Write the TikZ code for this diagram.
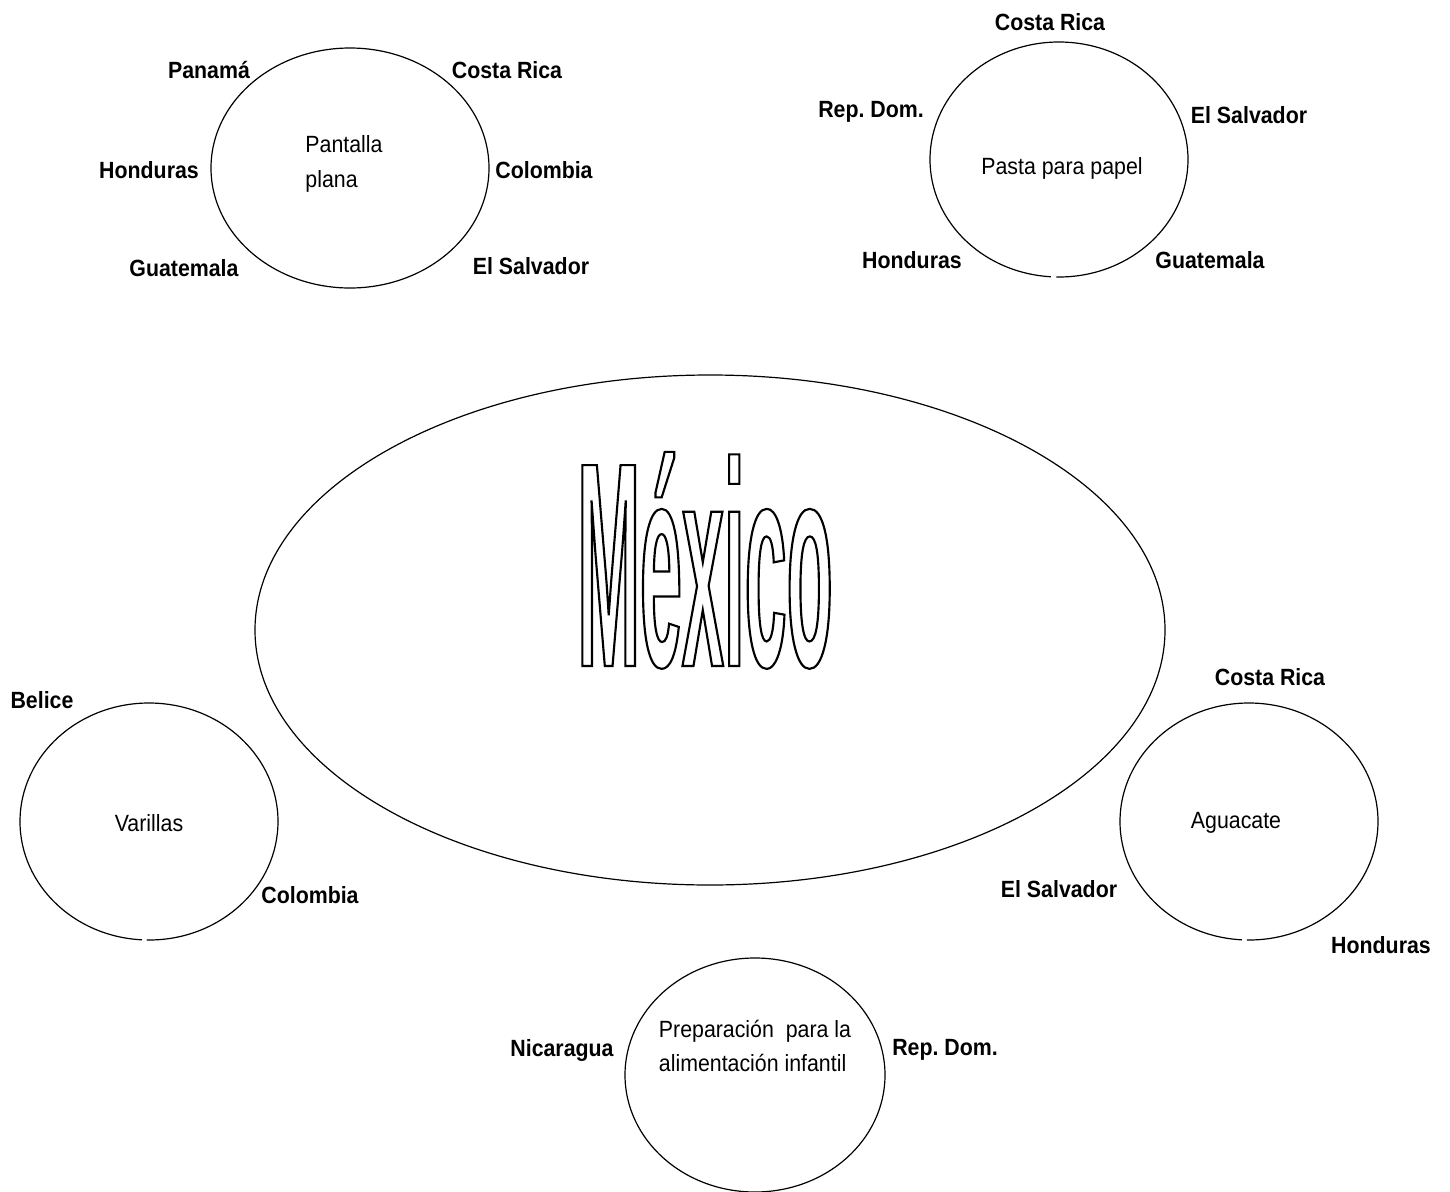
\documentclass[tikz,border=0pt]{standalone}
\usepackage{fontspec}
\setmainfont{Liberation Sans}
\newfontfamily\mexfont[FakeStretch=0.258]{Liberation Sans Bold}
\usetikzlibrary{shapes.geometric}
\newcommand\tallt[1]{\scalebox{1}[1.1]{#1}}
\tikzset{
  lbl/.style={inner sep=0pt, font=\fontsize{16}{19}\selectfont\bfseries},
  prod/.style={inner sep=0pt, font=\fontsize{16}{26}\selectfont, align=left},
  oval/.style={draw, ellipse, inner sep=0pt, line width=0.9pt},
  arcline/.style={line width=0.9pt}
}
\frenchspacing
\begin{document}
\begin{tikzpicture}[x=0.75pt,y=-0.75pt]
\useasboundingbox (0,0) rectangle (1450,1192);
% Pantalla plana
\node[oval, minimum width=208.5pt, minimum height=180pt] (c1) at (350,168) {};
\node[prod] (t1) at (344,164) {\tallt{Pantalla}\\\tallt{plana}};
\node[lbl] (c1a) at (209,70) {\tallt{Panamá}};
\node[lbl] (c1b) at (507,70) {\tallt{Costa Rica}};
\node[lbl] (c1c) at (149,170) {\tallt{Honduras}};
\node[lbl] (c1d) at (544,170) {\tallt{Colombia}};
\node[lbl] (c1e) at (184,268) {\tallt{Guatemala}};
\node[lbl] (c1f) at (531,266) {\tallt{El Salvador}};
% Pasta para papel
\coordinate (c2) at (1059,159.5);
\draw[arcline] (c2) ++(93.6:129 and 117.5) arc[start angle=93.6, end angle=451.2, x radius=129, y radius=117.5];
\node[prod] (t2) at (1062,168) {\tallt{Pasta para papel}};
\node[lbl] (c2a) at (1050,22) {\tallt{Costa Rica}};
\node[lbl] (c2b) at (871,112) {\tallt{Rep. Dom.}};
\node[lbl] (c2c) at (1249,115) {\tallt{El Salvador}};
\node[lbl] (c2d) at (912,260) {\tallt{Honduras}};
\node[lbl] (c2e) at (1210,260) {\tallt{Guatemala}};
% Mexico
\node[oval, minimum width=682.5pt, minimum height=382.5pt] (mx) at (710,630) {};
\node[inner sep=0pt, anchor=base] (mxt) at (705,666) {\special{pdf:literal direct 1 Tr 1.6 w}\mexfont\fontsize{219}{219}\selectfont México\special{pdf:literal direct 0 Tr}};
% Varillas
\coordinate (c3) at (149,821.5);
\draw[arcline] (c3) ++(93.2:129 and 118.5) arc[start angle=93.2, end angle=451, x radius=129, y radius=118.5];
\node[prod] (t3) at (149,823) {\tallt{Varillas}};
\node[lbl] (c3a) at (42,700) {\tallt{Belice}};
\node[lbl] (c3b) at (310,895) {\tallt{Colombia}};
% Aguacate
\coordinate (c4) at (1249,821.5);
\draw[arcline] (c4) ++(93.2:129 and 118.5) arc[start angle=93.2, end angle=451, x radius=129, y radius=118.5];
\node[prod] (t4) at (1236,823) {\tallt{Aguacate}};
\node[lbl] (c4a) at (1270,677) {\tallt{Costa Rica}};
\node[lbl] (c4b) at (1059,889) {\tallt{El Salvador}};
\node[lbl] (c4c) at (1381,945) {\tallt{Honduras}};
% Preparacion
\node[oval, minimum width=195pt, minimum height=175.5pt] (c5) at (755,1075) {};
\node[prod] (t5) at (755,1046) {\tallt{Preparación\ \ para la}\\\tallt{alimentación infantil}};
\node[lbl] (c5a) at (562,1050) {\tallt{Nicaragua}};
\node[lbl] (c5b) at (945,1050) {\tallt{Rep. Dom.}};
\end{tikzpicture}
\end{document}
